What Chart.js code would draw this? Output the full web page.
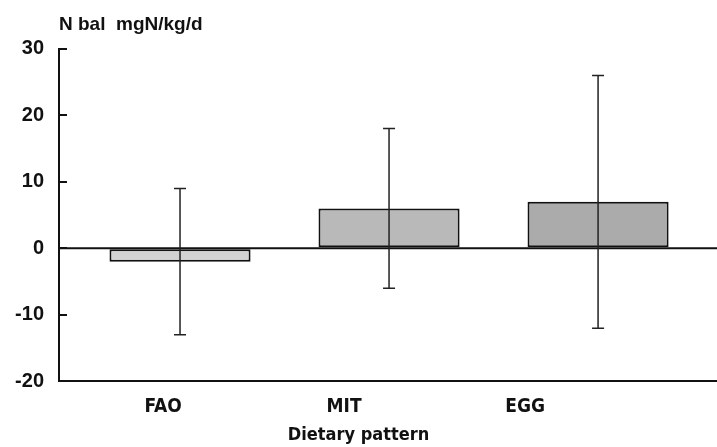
<!DOCTYPE html>
<html>
<head>
<meta charset="utf-8">
<script src="https://cdn.jsdelivr.net/npm/chart.js@4"></script>
<style>
  html, body { margin: 0; padding: 0; background: #fff; }
  #wrap { width: 717px; height: 447px; }
</style>
</head>
<body>
<div id="wrap"><canvas id="chartNbal"></canvas></div>
<script>
const categories = ['FAO', 'MIT', 'EGG'];
const meanValues = [-2, 6, 7];
const errorValues = [11, 12, 19];
const yTicks = [-20, -10, 0, 10, 20, 30];

const barColors = ['#d2d2d2', '#b9b9b9', '#ababab'];
const labelFont = "'Liberation Sans Narrow', 'DejaVu Sans Condensed', sans-serif";

// draws the zero line and the error bars through the scales
const extrasPlugin = {
  id: 'extras',
  beforeDatasetsDraw(chart) {
    const { ctx, chartArea, scales } = chart;
    const y0 = scales.y.getPixelForValue(0);
    ctx.save();
    ctx.strokeStyle = '#111';
    ctx.lineWidth = 2;
    ctx.beginPath();
    ctx.moveTo(chartArea.left, y0);
    ctx.lineTo(chartArea.right, y0);
    ctx.stroke();
    ctx.restore();
  },
  afterDatasetsDraw(chart) {
    const { ctx, scales } = chart;
    ctx.save();
    ctx.strokeStyle = '#222';
    ctx.lineWidth = 1.5;
    meanValues.forEach((m, i) => {
      const x = scales.x.getPixelForValue(i);
      const yTop = scales.y.getPixelForValue(m + errorValues[i]);
      const yBot = scales.y.getPixelForValue(m - errorValues[i]);
      ctx.beginPath();
      ctx.moveTo(x, yTop);
      ctx.lineTo(x, yBot);
      ctx.moveTo(x - 6, yTop);
      ctx.lineTo(x + 6, yTop);
      ctx.moveTo(x - 6, yBot);
      ctx.lineTo(x + 6, yBot);
      ctx.stroke();
    });
    ctx.restore();
  }
};

const ctx = document.getElementById('chartNbal').getContext('2d');
const chart = new Chart(ctx, {
  type: 'bar',
  data: {
    datasets: [{
      data: meanValues.map((v, i) => ({ x: i, y: v })),
      backgroundColor: barColors,
      borderColor: '#111',
      borderWidth: 2,
      borderSkipped: false,
      barPercentage: 0.675,
      categoryPercentage: 1,
      xAxisID: 'x'
    }]
  },
  options: {
    responsive: true,
    maintainAspectRatio: false,
    animation: false,
    layout: { padding: 0 },
    plugins: {
      legend: { display: false },
      tooltip: { enabled: false },
      title: {
        display: true,
        text: 'N bal  mgN/kg/d',
        align: 'start',
        fullSize: false,
        color: '#111',
        font: { family: 'Liberation Sans', size: 19 },
        padding: { top: 13, bottom: 13 }
      },
      subtitle: {
        display: true,
        position: 'bottom',
        text: 'Dietary pattern',
        fullSize: true,
        color: '#111',
        font: { family: labelFont, size: 18, weight: 'bold' },
        padding: { top: 0, bottom: 1 }
      }
    },
    scales: {
      x: {
        type: 'linear',
        display: false,
        offset: false,
        min: -0.579,
        max: 2.569,
        afterBuildTicks: (scale) => {
          scale.ticks = categories.map((c, i) => ({ value: i }));
        }
      },
      xl: {
        type: 'linear',
        position: 'bottom',
        offset: false,
        min: -0.575,
        max: 3.06,
        afterBuildTicks: (scale) => {
          scale.ticks = categories.map((c, i) => ({ value: i }));
        },
        afterFit: (scale) => { scale.height = 43; },
        ticks: {
          color: '#111',
          padding: 6,
          autoSkip: false,
          maxRotation: 0,
          font: { family: labelFont, size: 19, weight: 'bold' },
          callback: (v) => categories[v] ?? ''
        },
        grid: { display: false },
        border: { display: true, color: '#111', width: 2 }
      },
      y: {
        min: -20,
        max: 30,
        afterBuildTicks: (scale) => {
          scale.ticks = yTicks.map(v => ({ value: v }));
        },
        afterFit: (scale) => { scale.width = 59; },
        ticks: {
          color: '#111',
          padding: 23,
          font: { family: 'Liberation Sans', size: 20, weight: 'bold' }
        },
        grid: {
          drawOnChartArea: false,
          color: '#111',
          tickLength: -8,
          lineWidth: 2
        },
        border: { display: true, color: '#111', width: 2 }
      }
    }
  },
  plugins: [extrasPlugin]
});
</script>
</body>
</html>
